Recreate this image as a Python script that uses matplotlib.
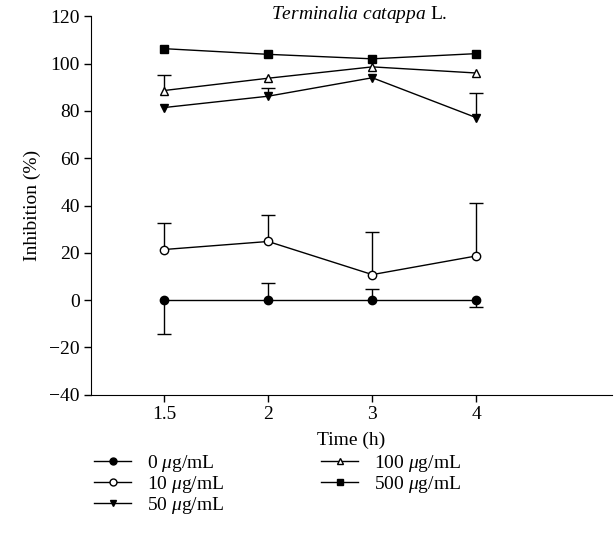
import matplotlib
matplotlib.use("Agg")
from matplotlib import pyplot as plt
import numpy as np

plt.rcParams['font.family'] = ['Liberation Serif', 'DejaVu Serif']
plt.rcParams['mathtext.fontset'] = 'custom'
plt.rcParams['mathtext.rm'] = 'Liberation Serif'
plt.rcParams['mathtext.it'] = 'Liberation Serif:italic'

times = ["1.5", "2", "3", "4"]

conc0 = [0, 0, 0, 0]
conc10 = [21.4, 24.8, 10.8, 18.7]
conc50 = [81.4, 86.2, 94.0, 77.1]
conc100 = [88.6, 93.8, 98.6, 96.0]
conc500 = [106.3, 103.9, 102.0, 104.2]

# one-sided SD bars: [lower, upper]
err0 = [[14.1, 0, 0, 3.1], [0, 7.3, 4.8, 0]]
err10 = [[0, 0, 0, 0], [11.2, 11.1, 18.0, 22.3]]
err50 = [[0, 0, 0, 0], [0, 3.5, 0, 10.4]]
err100 = [[0, 0, 0, 0], [6.5, 0, 0, 0]]
err500 = [[0, 0, 0, 0], [0, 0, 0, 0]]

labels = ["0 $\\mu$g/mL", "10 $\\mu$g/mL", "50 $\\mu$g/mL",
          "100 $\\mu$g/mL", "500 $\\mu$g/mL"]
series = [conc0, conc10, conc50, conc100, conc500]
errs = [err0, err10, err50, err100, err500]
markers = ['o', 'o', 'v', '^', 's']
faces = ['black', 'white', 'black', 'white', 'black']

fig = plt.figure(figsize=(6.15, 5.6), dpi=100)
ax = fig.add_axes([0.148, 0.295, 0.847, 0.676])
x = np.arange(len(times))

handles = []
for vals, err, m, fc, lab in zip(series, errs, markers, faces, labels):
    vals = np.array(vals)
    lo, up = np.array(err[0]), np.array(err[1])
    # one-sided bars: stem + cap only at the far end
    for e, sign in ((lo, -1), (up, 1)):
        k = e > 0
        if k.any():
            ends = vals[k] + sign * e[k]
            ax.vlines(x[k], vals[k], ends, color='black', lw=1.0, zorder=2)
            ax.plot(x[k], ends, ls='none', marker='_', ms=10, mew=1.0, color='black', zorder=2)
    ax.plot(x, vals, color='black', lw=1.0, zorder=3)
    ax.plot(x, vals, ls='none', marker=m, ms=6, mfc=fc, mec='black', mew=1.0, zorder=4)
    h, = ax.plot([], [], color='black', lw=1.0, marker=m, ms=5, mfc=fc, mec='black', mew=1.0)
    handles.append(h)

ax.set_xlim(-0.70, 4.3)
ax.set_ylim(-40, 120)
ax.set_yticks(np.arange(-40, 121, 20))
ax.set_yticklabels(["\u221240", "\u221220"] + [str(v) for v in range(0, 121, 20)])
ax.set_xticks(x)
ax.set_xticklabels(times)
ax.spines['top'].set_visible(False)
ax.spines['right'].set_visible(False)
ax.tick_params(direction='out', length=5, width=1, labelsize=14, pad=3)
ax.set_xlabel("Time (h)", fontsize=14, labelpad=6)
ax.set_ylabel("Inhibition (%)", fontsize=14, labelpad=6)
ax.text(0.515, 1.005, "$\\mathit{Terminalia\\ catappa}$ L.", transform=ax.transAxes,
        ha='center', va='center', fontsize=14)

fig.legend(handles, labels, loc='upper left', bbox_to_anchor=(0.125, 0.222), ncol=2,
           frameon=False, fontsize=14, handlelength=1.9, columnspacing=5.0,
           labelspacing=0.0, handletextpad=0.8)

plt.savefig("out.png", dpi=100)
